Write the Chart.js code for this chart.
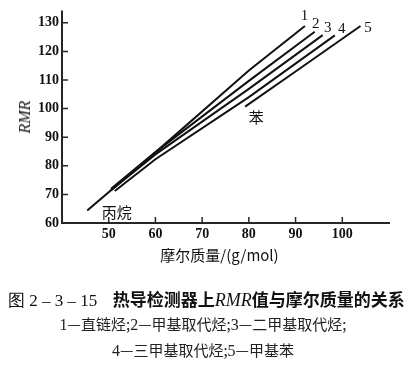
<!DOCTYPE html>
<html>
<head>
<meta charset="utf-8">
<script src="https://cdn.jsdelivr.net/npm/chart.js@4.4.0/dist/chart.umd.min.js"></script>
<style>
  html, body { margin: 0; padding: 0; background: #fff; }
  #wrap { position: relative; width: 416px; height: 365px; overflow: hidden; }
  #box { position: absolute; left: 0; top: 0; width: 416px; height: 264px; }
  .cap { position: absolute; white-space: nowrap; color: #111; }
  #xt { left: 56px; width: 327px; top: 245px; text-align: center; font: 400 15px "Noto Sans CJK SC"; line-height: 20px; }
  #yt { left: 25px; top: 117px; transform: translate(-50%, -50%) rotate(-90deg); font: italic 400 16px "Liberation Serif"; }
  #cap1 { left: 8px; top: 286px; font: 700 17px "Noto Sans CJK SC"; }
  #cap1 .num { font: 400 17px "Liberation Serif"; }
  #cap1 .it { font: italic 400 18px "Liberation Serif"; }
  #cap2, #cap3 { left: 0; width: 406px; text-align: center; font: 400 15px "Noto Sans CJK SC"; color: #222; }
  #cap2 { top: 313px; }
  #cap3 { top: 339px; }
  .d { font-family: "Liberation Serif"; font-size: 16px; }
</style>
</head>
<body>
<div id="wrap">
  <div id="box"><canvas id="chart"></canvas></div>
  <div class="cap" id="xt">摩尔质量/(g/mol)</div>
  <div class="cap" id="yt">RMR</div>
  <div class="cap" id="cap1"><span class="num">图 2 – 3 – 15</span>&nbsp;&nbsp;&nbsp;&nbsp;热导检测器上<span class="it">RMR</span>值与摩尔质量的关系</div>
  <div class="cap" id="cap2"><span class="d">1</span>—直链烃;<span class="d">2</span>—甲基取代烃;<span class="d">3</span>—二甲基取代烃;</div>
  <div class="cap" id="cap3"><span class="d">4</span>—三甲基取代烃;<span class="d">5</span>—甲基苯</div>
</div>
<script>
// values: molar mass (g/mol) vs RMR
const mass1 = [45.4, 60, 80, 92];
const rmr1  = [64.4, 84.7, 113.3, 128.9];
const mass2 = [50.5, 60, 80, 94.1];
const rmr2  = [72, 84.8, 109.7, 126.9];
const mass3 = [50.5, 60, 80, 95.8];
const rmr3  = [71.5, 84, 106.9, 125.7];
const mass4 = [51.3, 60, 80, 98.4];
const rmr4  = [71.2, 82.3, 104, 125.6];
const mass5 = [79.2, 90, 103.9];
const rmr5  = [100.7, 113, 128.9];

const seriesNames = ['1', '2', '3', '4', '5'];
const xTicks = [50, 60, 70, 80, 90, 100];
const yTicks = [60, 70, 80, 90, 100, 110, 120, 130];

// text notes on the plot, placed in data units
const notes = [
  { text: '1', x: 91.9, y: 132.4, serif: true },
  { text: '2', x: 94.3, y: 129.6, serif: true },
  { text: '3', x: 96.9, y: 128.3, serif: true },
  { text: '4', x: 99.9, y: 127.9, serif: true },
  { text: '5', x: 105.5, y: 128.3, serif: true },
  { text: '丙烷', x: 51.7, y: 63.8 },
  { text: '苯', x: 81.6, y: 96.9 }
];

const toPoints = (xs, ys) => xs.map((x, i) => ({ x: x, y: ys[i] }));
const allSeries = [[mass1, rmr1], [mass2, rmr2], [mass3, rmr3], [mass4, rmr4], [mass5, rmr5]];

const data = {
  datasets: allSeries.map((s, i) => ({
    label: seriesNames[i],
    data: toPoints(s[0], s[1]),
    showLine: true,
    borderColor: '#111',
    borderWidth: 2,
    pointRadius: 0,
    tension: 0
  }))
};

const tickFont = { family: 'Liberation Serif', size: 14, weight: 'bold' };
const axisColor = 'rgb(38, 38, 38)';

// axis lines and the small tick marks pointing into the plot
const axes = {
  id: 'axes',
  afterDatasetsDraw(chart) {
    const ctx = chart.ctx;
    const area = chart.chartArea;
    const xs = chart.scales.x, ys = chart.scales.y;
    ctx.save();
    ctx.strokeStyle = axisColor;
    ctx.lineWidth = 2;
    ctx.lineCap = 'square';
    const axisPath = new Path2D();
    axisPath.moveTo(area.left, area.top);
    axisPath.lineTo(area.left, area.bottom);
    axisPath.lineTo(area.right, area.bottom);
    ctx.stroke(axisPath);
    ctx.lineWidth = 1.5;
    ctx.lineCap = 'butt';
    const tickPath = new Path2D();
    xTicks.forEach(v => {
      const px = xs.getPixelForValue(v);
      tickPath.moveTo(px, area.bottom);
      tickPath.lineTo(px, area.bottom - 6);
    });
    yTicks.forEach(v => {
      const py = ys.getPixelForValue(v);
      tickPath.moveTo(area.left, py);
      tickPath.lineTo(area.left + 6, py);
    });
    ctx.stroke(tickPath);
    ctx.restore();
  }
};

// curve numbers and compound names
const labels = {
  id: 'labels',
  afterDraw(chart) {
    const ctx = chart.ctx;
    const xs = chart.scales.x, ys = chart.scales.y;
    ctx.save();
    ctx.fillStyle = '#111';
    ctx.textAlign = 'center';
    ctx.textBaseline = 'middle';
    notes.forEach(n => {
      ctx.font = n.serif ? '15px "Liberation Serif"' : '15px "Noto Sans CJK SC"';
      ctx.fillText(n.text, xs.getPixelForValue(n.x), ys.getPixelForValue(n.y));
    });
    ctx.restore();
  }
};

const options = {
  responsive: true,
  maintainAspectRatio: false,
  animation: false,
  layout: { padding: { left: 0, right: 27, top: 10, bottom: 0 } },
  plugins: { legend: { display: false }, tooltip: { enabled: false } },
  scales: {
    x: {
      type: 'linear',
      min: 40,
      max: 110,
      afterBuildTicks: (s) => { s.ticks = xTicks.map(v => ({ value: v })); },
      afterFit: (s) => { s.height = 41; },
      grid: { display: false, drawTicks: false },
      border: { display: false },
      ticks: { font: tickFont, color: '#111', padding: 3 }
    },
    y: {
      type: 'linear',
      min: 60,
      max: 134,
      afterBuildTicks: (s) => { s.ticks = yTicks.map(v => ({ value: v })); },
      afterFit: (s) => { s.width = 62; },
      grid: { display: false, drawTicks: false },
      border: { display: false },
      ticks: { font: tickFont, color: '#111', padding: 3 }
    }
  }
};

new Chart(document.getElementById('chart'), {
  type: 'scatter',
  data,
  options,
  plugins: [axes, labels]
});
</script>
</body>
</html>
